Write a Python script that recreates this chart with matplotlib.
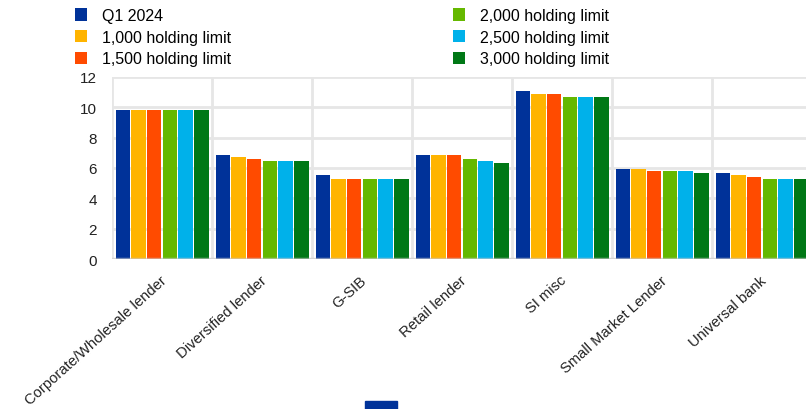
import numpy as np
import matplotlib
matplotlib.use("Agg")
import matplotlib.pyplot as plt
from matplotlib.patches import Rectangle

plt.rcParams["font.family"] = ["Liberation Sans", "DejaVu Sans"]

categories = [
    "Corporate/Wholesale lender", "Diversified lender", "G-SIB", "Retail lender",
    "SI misc", "Small Market Lender", "Universal bank",
]
series_names = [
    "Q1 2024", "1,000 holding limit", "1,500 holding limit",
    "2,000 holding limit", "2,500 holding limit", "3,000 holding limit",
]
q1_2024 = [9.8, 6.85, 5.52, 6.85, 11.1, 5.92, 5.65]
limit_1000 = [9.8, 6.72, 5.27, 6.85, 10.85, 5.92, 5.52]
limit_1500 = [9.8, 6.58, 5.27, 6.85, 10.85, 5.79, 5.39]
limit_2000 = [9.8, 6.45, 5.27, 6.58, 10.7, 5.79, 5.27]
limit_2500 = [9.8, 6.45, 5.27, 6.45, 10.7, 5.79, 5.27]
limit_3000 = [9.8, 6.45, 5.27, 6.32, 10.7, 5.65, 5.27]
colors = ["#003299", "#FFB400", "#FF4B00", "#65B800", "#00B1EA", "#007816"]

series = [q1_2024, limit_1000, limit_1500, limit_2000, limit_2500, limit_3000]

fig = plt.figure(figsize=(8.06, 4.10), dpi=100)
ax = fig.add_axes([112 / 806, 150 / 410, 700 / 806, 182 / 410])

x = np.arange(len(categories))
step = 0.157
width = 0.145
for i, (vals, name, col) in enumerate(zip(series, series_names, colors)):
    offs = (i - 2.5) * step
    ax.bar(x + offs, vals, width=width, color=col, label=name, zorder=2)

ax.axhline(0, color="#c8c8c8", lw=2.5, alpha=0.6, zorder=3)

ax.set_xlim(-0.5, len(categories) - 0.5)
ax.set_ylim(0, 12)
ax.set_yticks(range(0, 13, 2))
ax.set_xticks(np.arange(len(categories) + 1) - 0.5, minor=True)
ax.set_xticks(x - 0.02)
ax.set_xticklabels(categories, rotation=42, ha="right", rotation_mode="anchor",
                   fontsize=10.6, color="#222222")
ax.tick_params(axis="x", which="both", length=0, pad=10)
ax.tick_params(axis="y", length=0, pad=11, labelsize=11, labelcolor="#222222")
ax.grid(axis="y", color="#e6e6e6", lw=2, zorder=0)
ax.grid(axis="x", which="minor", color="#e6e6e6", lw=2, zorder=0)
for s in ax.spines.values():
    s.set_visible(False)

# two-column legend above the plot
handles, labels = ax.get_legend_handles_labels()
fig.legend(handles, labels, ncol=2, loc="upper left",
           bbox_to_anchor=(75 / 806, 1 - 9 / 410), frameon=False, fontsize=11.5,
           borderpad=0, borderaxespad=0,
           handlelength=0.75, handleheight=0.8, handletextpad=0.95,
           labelspacing=0.42, columnspacing=13.9)

# stray legend swatch at the bottom edge
fig.patches.append(Rectangle((365 / 806, 0), 32 / 806, 8 / 410,
                             transform=fig.transFigure, color=colors[0]))

fig.savefig("out.png", dpi=100)
